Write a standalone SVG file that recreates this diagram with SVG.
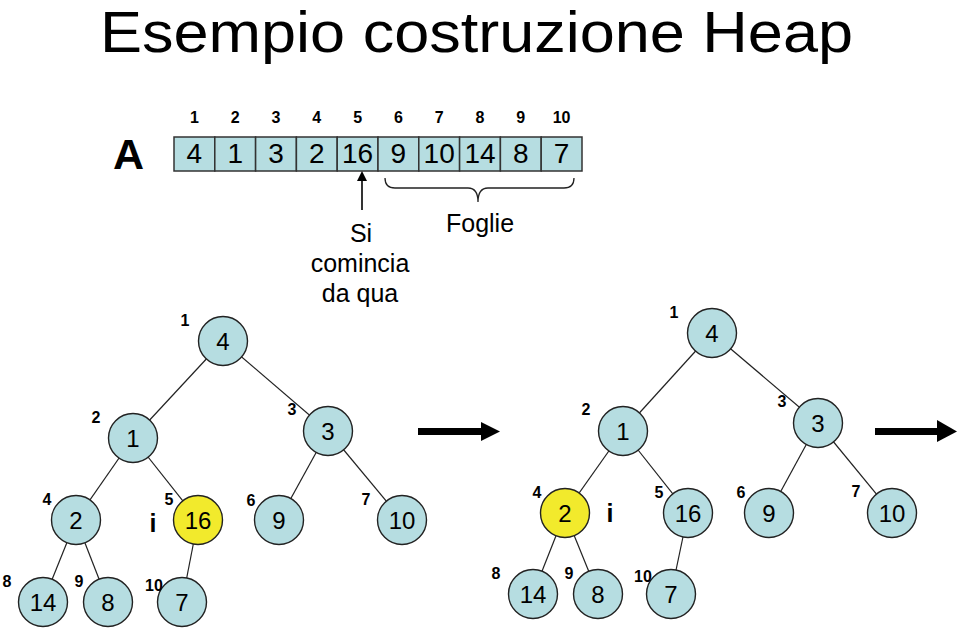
<svg xmlns="http://www.w3.org/2000/svg" width="959" height="628" viewBox="0 0 959 628">
<style>
text{font-family:"Liberation Sans",Arial,sans-serif;fill:#000}
.cell rect{fill:#b6dde1;stroke:#333;stroke-width:1.5}
.cell text{font-size:28px;text-anchor:middle}
.idx{font-size:16px;font-weight:bold;text-anchor:middle}
.lbl{font-size:16px;font-weight:bold;text-anchor:middle}
.node circle{fill:#b6dde1;stroke:#222;stroke-width:1.4}
.node.hl circle{fill:#f2ea2c}
.node text{font-size:24px;text-anchor:middle}
.edges line{stroke:#222;stroke-width:1.2}
.big{font-size:25px;text-anchor:middle}
.ii{font-size:25px;font-weight:bold;text-anchor:middle}
</style>
<rect width="959" height="628" fill="#fff"/>
<text x="100" y="52" style="font-size:57px" textLength="753" lengthAdjust="spacingAndGlyphs">Esempio costruzione Heap</text>
<text x="113" y="169" style="font-size:43px;font-weight:bold">A</text>
<g id="array">
<g class="cell"><rect x="174" y="137" width="40.8" height="34"/><text x="194.4" y="163">4</text></g>
<g class="cell"><rect x="214.8" y="137" width="40.8" height="34"/><text x="235.2" y="163">1</text></g>
<g class="cell"><rect x="255.6" y="137" width="40.8" height="34"/><text x="276" y="163">3</text></g>
<g class="cell"><rect x="296.4" y="137" width="40.8" height="34"/><text x="316.8" y="163">2</text></g>
<g class="cell"><rect x="337.2" y="137" width="40.8" height="34"/><text x="357.6" y="163">16</text></g>
<g class="cell"><rect x="378" y="137" width="40.8" height="34"/><text x="398.4" y="163">9</text></g>
<g class="cell"><rect x="418.8" y="137" width="40.8" height="34"/><text x="439.2" y="163">10</text></g>
<g class="cell"><rect x="459.6" y="137" width="40.8" height="34"/><text x="480" y="163">14</text></g>
<g class="cell"><rect x="500.4" y="137" width="40.8" height="34"/><text x="520.8" y="163">8</text></g>
<g class="cell"><rect x="541.2" y="137" width="40.8" height="34"/><text x="561.6" y="163">7</text></g>
<text class="idx" x="194.4" y="123">1</text>
<text class="idx" x="235.2" y="123">2</text>
<text class="idx" x="276" y="123">3</text>
<text class="idx" x="316.8" y="123">4</text>
<text class="idx" x="357.6" y="123">5</text>
<text class="idx" x="398.4" y="123">6</text>
<text class="idx" x="439.2" y="123">7</text>
<text class="idx" x="480" y="123">8</text>
<text class="idx" x="520.8" y="123">9</text>
<text class="idx" x="561.6" y="123">10</text>
</g>
<g id="annotations">
<line x1="362" y1="179" x2="362" y2="210" stroke="#000" stroke-width="1.6"/>
<polygon points="362,171 357,181 367,181" fill="#000"/>
<text class="big" x="361" y="242">Si</text>
<text class="big" x="360" y="272">comincia</text>
<text class="big" x="360" y="302">da qua</text>
<path d="M385,178 Q385,188 395,188 L468,188 Q478,188 478,202 Q478,188 488,188 L564,188 Q574,188 574,178" fill="none" stroke="#222" stroke-width="1.3"/>
<text class="big" x="480" y="232">Foglie</text>
</g>
<g id="arrows">
<rect x="418" y="428" width="64" height="7" fill="#000"/>
<polygon points="481,422 500,431.5 481,441" fill="#000"/>
<rect x="875" y="428" width="63" height="7" fill="#000"/>
<polygon points="937,420 957,431.5 937,442" fill="#000"/>
</g>
<g class="edges" id="edges-left">
<line x1="223" y1="341" x2="133" y2="438"/>
<line x1="223" y1="341" x2="328" y2="431"/>
<line x1="133" y1="438" x2="76" y2="520"/>
<line x1="133" y1="438" x2="198" y2="520"/>
<line x1="328" y1="431" x2="279" y2="520"/>
<line x1="328" y1="431" x2="402" y2="520"/>
<line x1="76" y1="520" x2="43" y2="602"/>
<line x1="76" y1="520" x2="108" y2="602"/>
<line x1="198" y1="520" x2="182" y2="602"/>
</g>
<g id="tree-left">
<g class="node" id="L1"><circle cx="223" cy="341" r="24.5"/><text x="223" y="349.5">4</text></g>
<g class="node" id="L2"><circle cx="133" cy="438" r="24.5"/><text x="133" y="446.5">1</text></g>
<g class="node" id="L3"><circle cx="328" cy="431" r="24.5"/><text x="328" y="439.5">3</text></g>
<g class="node" id="L4"><circle cx="76" cy="520" r="24.5"/><text x="76" y="528.5">2</text></g>
<g class="node hl" id="L5"><circle cx="198" cy="520" r="24.5"/><text x="198" y="528.5">16</text></g>
<g class="node" id="L6"><circle cx="279" cy="520" r="24.5"/><text x="279" y="528.5">9</text></g>
<g class="node" id="L7"><circle cx="402" cy="520" r="24.5"/><text x="402" y="528.5">10</text></g>
<g class="node" id="L8"><circle cx="43" cy="602" r="24.5"/><text x="43" y="610.5">14</text></g>
<g class="node" id="L9"><circle cx="108" cy="602" r="24.5"/><text x="108" y="610.5">8</text></g>
<g class="node" id="L10"><circle cx="182" cy="602" r="24.5"/><text x="182" y="610.5">7</text></g>
<text class="lbl" x="185" y="326">1</text>
<text class="lbl" x="96" y="423">2</text>
<text class="lbl" x="292" y="415">3</text>
<text class="lbl" x="47" y="505">4</text>
<text class="lbl" x="169" y="505">5</text>
<text class="lbl" x="251" y="506">6</text>
<text class="lbl" x="366" y="505">7</text>
<text class="lbl" x="7" y="587">8</text>
<text class="lbl" x="79" y="587">9</text>
<text class="lbl" x="154" y="591">10</text>
<text class="ii" x="153" y="532">i</text>
</g>
<g class="edges" id="edges-right">
<line x1="712" y1="333" x2="623" y2="431"/>
<line x1="712" y1="333" x2="818" y2="423"/>
<line x1="623" y1="431" x2="565" y2="513"/>
<line x1="623" y1="431" x2="688" y2="513"/>
<line x1="818" y1="423" x2="769" y2="513"/>
<line x1="818" y1="423" x2="892" y2="513"/>
<line x1="565" y1="513" x2="533" y2="594"/>
<line x1="565" y1="513" x2="598" y2="594"/>
<line x1="688" y1="513" x2="671" y2="594"/>
</g>
<g id="tree-right">
<g class="node" id="R1"><circle cx="712" cy="333" r="24.5"/><text x="712" y="341.5">4</text></g>
<g class="node" id="R2"><circle cx="623" cy="431" r="24.5"/><text x="623" y="439.5">1</text></g>
<g class="node" id="R3"><circle cx="818" cy="423" r="24.5"/><text x="818" y="431.5">3</text></g>
<g class="node hl" id="R4"><circle cx="565" cy="513" r="24.5"/><text x="565" y="521.5">2</text></g>
<g class="node" id="R5"><circle cx="688" cy="513" r="24.5"/><text x="688" y="521.5">16</text></g>
<g class="node" id="R6"><circle cx="769" cy="513" r="24.5"/><text x="769" y="521.5">9</text></g>
<g class="node" id="R7"><circle cx="892" cy="513" r="24.5"/><text x="892" y="521.5">10</text></g>
<g class="node" id="R8"><circle cx="533" cy="594" r="24.5"/><text x="533" y="602.5">14</text></g>
<g class="node" id="R9"><circle cx="598" cy="594" r="24.5"/><text x="598" y="602.5">8</text></g>
<g class="node" id="R10"><circle cx="671" cy="594" r="24.5"/><text x="671" y="602.5">7</text></g>
<text class="lbl" x="674" y="318">1</text>
<text class="lbl" x="586" y="415">2</text>
<text class="lbl" x="782" y="407">3</text>
<text class="lbl" x="537" y="498">4</text>
<text class="lbl" x="659" y="498">5</text>
<text class="lbl" x="741" y="498">6</text>
<text class="lbl" x="856" y="497">7</text>
<text class="lbl" x="496" y="579">8</text>
<text class="lbl" x="569" y="579">9</text>
<text class="lbl" x="643" y="582">10</text>
<text class="ii" x="610" y="522">i</text>
</g>
</svg>
